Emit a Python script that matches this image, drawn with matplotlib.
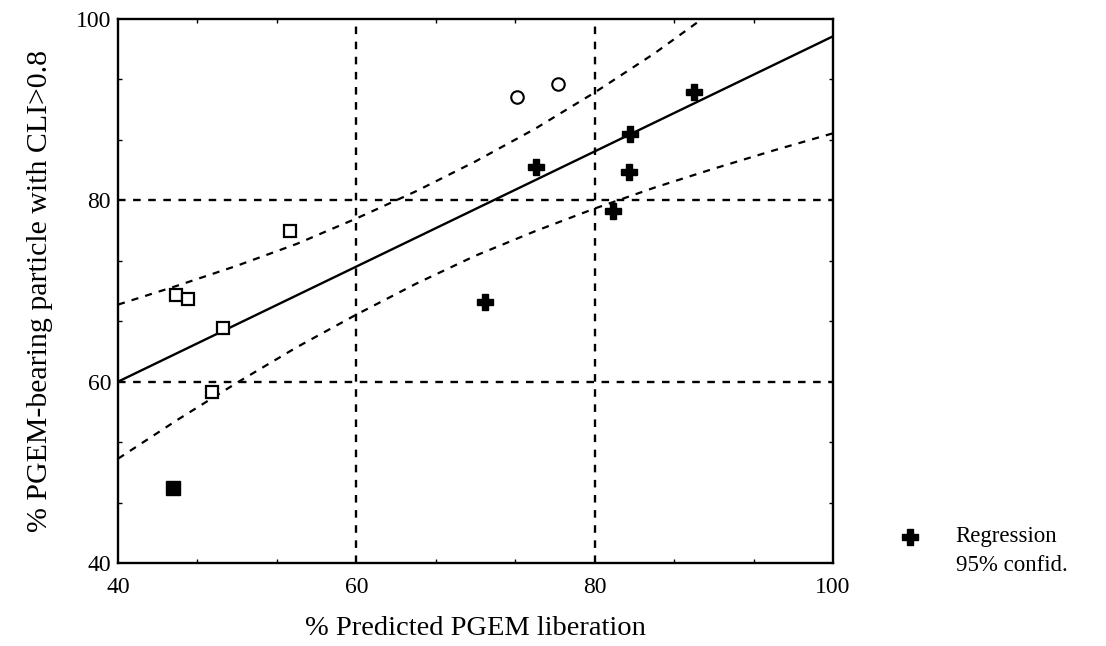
import matplotlib.pyplot as plt
from matplotlib.ticker import MultipleLocator

plt.rcParams['font.family'] = ['Liberation Serif', 'DejaVu Serif']

# Open squares
sq_x = [44.9, 45.9, 48.8, 47.9, 54.4]
sq_y = [69.6, 69.1, 65.9, 58.9, 76.6]
# Filled square
fsq_x = [44.6]
fsq_y = [48.3]
# Open circles
circ_x = [73.5, 76.9]
circ_y = [91.4, 92.8]
# Crosses
plus_x = [88.3, 83.0, 75.1, 82.9, 81.5, 70.8]
plus_y = [91.9, 87.3, 83.7, 83.1, 78.8, 68.8]

# Regression line end points
reg_x = [40, 100]
reg_y = [60.0, 98.1]

# 95% confidence band
up_x = [40, 45, 50, 55, 60, 65, 70, 75, 80, 85, 89]
up_y = [68.5, 70.6, 72.8, 75.2, 78.0, 81.0, 84.3, 87.9, 91.9, 96.2, 100.0]
lo_x = [40, 45, 50, 55, 60, 65, 70, 75, 80, 85, 90, 95, 100]
lo_y = [51.5, 55.8, 59.9, 63.8, 67.4, 70.8, 73.9, 76.6, 79.1, 81.4, 83.5, 85.5, 87.4]

fig = plt.figure(figsize=(11.06, 6.46), dpi=100)
ax = fig.add_axes([0.1067, 0.1285, 0.6465, 0.842])

dash = (0, (3.2, 3.2))
for v in [60, 80]:
    ax.axvline(v, color='black', lw=1.7, ls=dash, zorder=1)
    ax.axhline(v, color='black', lw=1.7, ls=dash, zorder=1)

ax.plot(reg_x, reg_y, color='black', lw=1.7, zorder=2)
ax.plot(up_x, up_y, color='black', lw=1.6, ls=dash, zorder=2)
ax.plot(lo_x, lo_y, color='black', lw=1.6, ls=dash, zorder=2)

ax.plot(sq_x, sq_y, 's', ms=9, mfc='white', mec='black', mew=1.6, zorder=3)
ax.plot(fsq_x, fsq_y, 's', ms=9.5, mfc='black', mec='black', zorder=3)
ax.plot(circ_x, circ_y, 'o', ms=9, mfc='white', mec='black', mew=1.5, zorder=3)
ax.plot(plus_x, plus_y, 'P', ms=11, mfc='black', mec='black', zorder=3)

ax.set_xlim(40, 100)
ax.set_ylim(40, 100)
ax.xaxis.set_major_locator(MultipleLocator(20))
ax.yaxis.set_major_locator(MultipleLocator(20))
ax.xaxis.set_minor_locator(MultipleLocator(20 / 3))
ax.yaxis.set_minor_locator(MultipleLocator(20 / 3))
ax.tick_params(which='major', length=0, labelsize=17, pad=10)
ax.tick_params(axis='y', which='major', pad=5)
ax.tick_params(which='minor', direction='in', length=3, width=1,
               top=True, right=True)
for s in ax.spines.values():
    s.set_linewidth(1.7)

ax.set_xlabel('% Predicted PGEM liberation', fontsize=20.5, labelpad=13)
ax.set_ylabel('% PGEM-bearing particle with CLI>0.8', fontsize=21.5, labelpad=16)

# Legend entries beside the plot
ax.plot([1.108], [0.048], 'P', ms=11, color='black',
        transform=ax.transAxes, clip_on=False)
fig.text(0.864, 0.169, 'Regression', fontsize=16.5, va='center')
fig.text(0.864, 0.124, '95% confid.', fontsize=16.5, va='center')

fig.savefig('out.png', dpi=100)
